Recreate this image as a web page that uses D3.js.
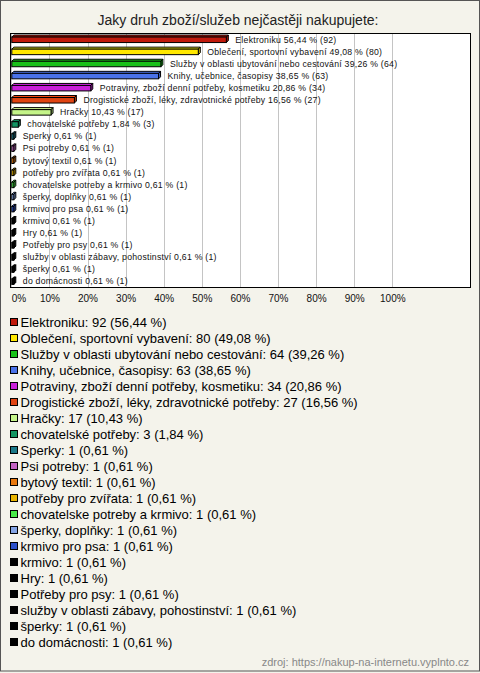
<!DOCTYPE html>
<html><head><meta charset="utf-8">
<script src="https://cdn.jsdelivr.net/npm/d3@7"></script>
<style>
html,body{margin:0;padding:0;background:#f4f3eb;}
svg{display:block;font-family:Arial,"Liberation Sans",sans-serif;}
</style></head><body>
<svg id="c" width="480" height="673"></svg>
<script>
const categories = ["Elektroniku","Oblečení, sportovní vybavení","Služby v oblasti ubytování nebo cestování","Knihy, učebnice, časopisy","Potraviny, zboží denní potřeby, kosmetiku","Drogistické zboží, léky, zdravotnické potřeby","Hračky","chovatelské potřeby","Sperky","Psi potreby","bytový textil","potřeby pro zvířata","chovatelske potreby a krmivo","šperky, doplňky","krmivo pro psa","krmivo","Hry","Potřeby pro psy","služby v oblasti zábavy, pohostinství","šperky","do domácnosti"];
const counts = [92,80,64,63,34,27,17,3,1,1,1,1,1,1,1,1,1,1,1,1,1];
const percents = [56.44,49.08,39.26,38.65,20.86,16.56,10.43,1.84,0.61,0.61,0.61,0.61,0.61,0.61,0.61,0.61,0.61,0.61,0.61,0.61,0.61];
const colors = ["#c01a0c","#ffe800","#18c018","#4a72e8","#c820d8","#e04412","#c4f488","#129462","#1a7888","#c464c4","#e8780e","#e8b400","#48e848","#84a4e4","#2c50c8","#000000","#000000","#000000","#000000","#000000","#000000"];
const xTicks = [0,10,20,30,40,50,60,70,80,90,100];
const title = "Jaky druh zboží/služeb nejčastěji nakupujete:";
const source = "zdroj: https://nakup-na-internetu.vyplnto.cz";

const svg = d3.select("#c");
const W = 480, H = 673;
svg.append("rect").attr("x",0.5).attr("y",0.5).attr("width",W-1).attr("height",H-2.5)
  .attr("fill","#f4f3eb").attr("stroke","#555");

svg.append("text").attr("x",238).attr("y",25).attr("text-anchor","middle")
  .attr("font-size",14).attr("fill","#222").text(title);

const box = {x0:10.5, x1:470.5, y0:33.5, y1:287.5};
svg.append("rect").attr("x",box.x0).attr("y",box.y0).attr("width",box.x1-box.x0).attr("height",box.y1-box.y0)
  .attr("fill","#fff");

const x = d3.scaleLinear().domain([0,100]).range([11.3,392.3]);
const y = d3.scaleBand().domain(d3.range(categories.length)).range([33,287]);

svg.append("g").selectAll("line").data(xTicks).join("line")
  .attr("x1",d=>Math.round(x(d))+0.5).attr("x2",d=>Math.round(x(d))+0.5)
  .attr("y1",box.y0).attr("y2",box.y1).attr("stroke","#c4c4c4");

svg.append("rect").attr("x",box.x0).attr("y",box.y0).attr("width",box.x1-box.x0).attr("height",box.y1-box.y0)
  .attr("fill","none").attr("stroke","#000");

const d = 2;
const bars = svg.append("g").selectAll("g").data(percents).join("g");
bars.each(function(v,i){
  const g = d3.select(this);
  const cy = y(i) + y.bandwidth()/2;
  const x0 = x(0)+0.5, x1 = Math.max(x(v), x0+2);
  const top = cy-2, bot = cy+3.5;
  const c = colors[i];
  g.append("path").attr("d",`M${x0},${top}L${x0+d},${top-d}L${x1+d},${top-d}L${x1},${top}Z`)
    .attr("fill",d3.color(c).brighter(0.3)).attr("stroke","#000").attr("stroke-width",1);
  g.append("path").attr("d",`M${x1},${top}L${x1+d},${top-d}L${x1+d},${bot-d}L${x1},${bot}Z`)
    .attr("fill",d3.color(c).darker(0.5)).attr("stroke","#000").attr("stroke-width",1);
  g.append("rect").attr("x",x0).attr("y",top).attr("width",x1-x0).attr("height",bot-top)
    .attr("fill",c).attr("stroke","#000").attr("stroke-width",1);
  g.append("text").attr("x",x1+9).attr("y",cy+3.5).attr("font-size",8.7)
    .attr("letter-spacing","0.25px").attr("fill","#111")
    .text(`${categories[i]} ${d3.format(".2f")(v).replace(".",",")} % (${counts[i]})`);
});

const axis = d3.axisBottom(x).tickValues(xTicks).tickSize(0).tickFormat(t=>t+"%");
const ag = svg.append("g").attr("transform",`translate(0,${box.y1})`).call(axis);
ag.select(".domain").remove();
ag.selectAll("text").attr("font-size",10).attr("fill","#111").attr("font-family","Arial,'Liberation Sans',sans-serif").attr("dy","1.0em").attr("y",4);
ag.selectAll(".tick").filter(t=>t===0).select("text").attr("text-anchor","start").attr("x",0);

const lg = svg.append("g").selectAll("g").data(categories).join("g")
  .attr("transform",(c,i)=>`translate(0,${327+i*16})`);
lg.append("rect").attr("x",10.5).attr("y",-8.5).attr("width",7).attr("height",7)
  .attr("fill",(c,i)=>colors[i]).attr("stroke","#000");
lg.append("text").attr("x",20.5).attr("y",0).attr("font-size",13).attr("fill","#000")
  .text((c,i)=>`${c}: ${counts[i]} (${d3.format(".2f")(percents[i]).replace(".",",")} %)`);

svg.append("text").attr("x",469).attr("y",666).attr("text-anchor","end")
  .attr("font-size",11).attr("fill","#888").text(source);
</script>
</body></html>
